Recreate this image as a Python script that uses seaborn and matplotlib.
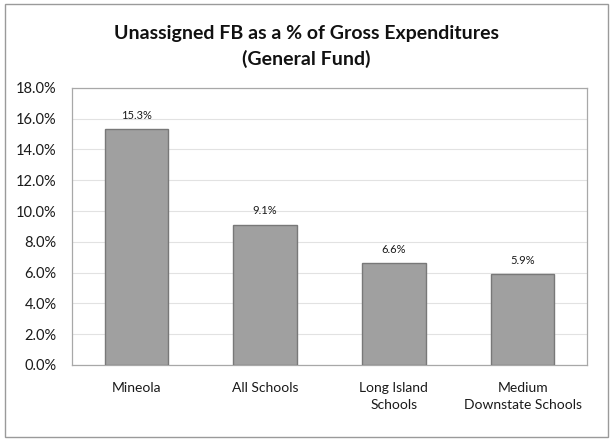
import matplotlib
matplotlib.use("Agg")
import matplotlib.pyplot as plt
import seaborn as sns
import pandas as pd
from matplotlib.patches import Rectangle
from matplotlib.ticker import FuncFormatter, MultipleLocator

categories = ["Mineola", "All Schools", "Long Island\nSchools", "Medium\nDownstate Schools"]
values = [15.3, 9.1, 6.6, 5.9]
value_labels = ["15.3%", "9.1%", "6.6%", "5.9%"]

sns.set_theme(style="white")
plt.rcParams['font.family'] = ['Lato', 'DejaVu Sans']

df = pd.DataFrame({"cat": categories, "val": values})

fig = plt.figure(figsize=(6.13, 4.44), dpi=100)
ax = fig.add_axes([0.117, 0.178, 0.841, 0.624])

sns.barplot(data=df, x="cat", y="val", color="#a0a0a0", width=0.49,
            edgecolor="#787878", linewidth=1.0, saturation=1, ax=ax, zorder=3)

ax.set_ylim(0, 18)
ax.yaxis.set_major_locator(MultipleLocator(2))
ax.yaxis.set_major_formatter(FuncFormatter(lambda v, p: f"{v:.1f}%"))
ax.grid(axis="y", color="#e2e2e2", linewidth=0.8, zorder=0)
ax.set_xlabel("")
ax.set_ylabel("")
for s in ax.spines.values():
    s.set_color("#a8a8a8")
    s.set_linewidth(0.9)
ax.tick_params(axis="y", length=0, labelsize=10.5, colors="#1a1a1a", pad=11)
ax.tick_params(axis="x", length=0, labelsize=10, colors="#1a1a1a", pad=12)
for t in ax.get_xticklabels():
    t.set_linespacing(1.5)

for i, (v, lab) in enumerate(zip(values, value_labels)):
    ax.text(i, v + 0.55, lab, ha="center", va="bottom", fontsize=8, color="#1a1a1a")

fig.text(0.5, 0.925, "Unassigned FB as a % of Gross Expenditures", ha="center", va="center",
         fontsize=14, fontweight="bold", color="#111111")
fig.text(0.5, 0.868, "(General Fund)", ha="center", va="center",
         fontsize=14, fontweight="bold", color="#111111")

fig.patches.append(Rectangle((0.008, 0.015), 0.984, 0.975, transform=fig.transFigure,
                             fill=False, edgecolor="#9a9a9a", linewidth=1.0))

fig.savefig("out.png", dpi=100)
